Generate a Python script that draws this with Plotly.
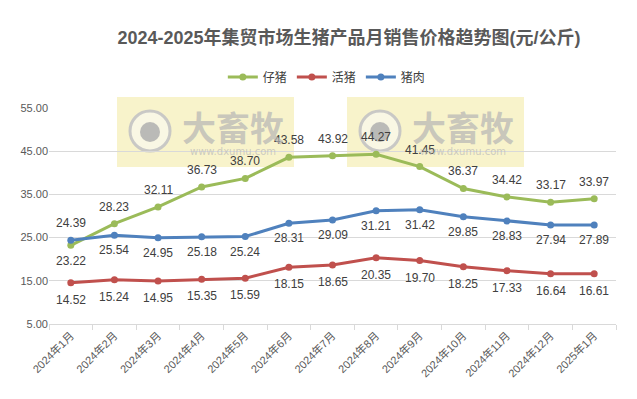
import plotly.graph_objects as go

months = ["2024年1月", "2024年2月", "2024年3月", "2024年4月", "2024年5月", "2024年6月",
          "2024年7月", "2024年8月", "2024年9月", "2024年10月", "2024年11月", "2024年12月", "2025年1月"]
piglet = [23.22, 28.23, 32.11, 36.73, 38.70, 43.58, 43.92, 44.27, 41.45, 36.37, 34.42, 33.17, 33.97]
live_hog = [14.52, 15.24, 14.95, 15.35, 15.59, 18.15, 18.65, 20.35, 19.70, 18.25, 17.33, 16.64, 16.61]
pork = [24.39, 25.54, 24.95, 25.18, 25.24, 28.31, 29.09, 31.21, 31.42, 29.85, 28.83, 27.94, 27.89]

series_names = ["仔猪", "活猪", "猪肉"]
colors = ["#9BBB59", "#C0504D", "#4F81BD"]

FONT = "Liberation Sans, Noto Sans CJK SC, sans-serif"

L, R, T, B = 49, 616, 108, 324
PW, PH = R - L, B - T


def px(x):
    return (x - L) / PW


def py(y):
    return (B - y) / PH


fig = go.Figure()
for name, vals, col in zip(series_names, [piglet, live_hog, pork], colors):
    fig.add_trace(go.Scatter(
        x=months, y=vals, name=name, mode="lines+markers",
        line=dict(color=col, width=3), marker=dict(color=col, size=7),
        hoverinfo="skip"))

# data labels
label_specs = [
    (piglet, [16] + [-17] * 12),
    (live_hog, [17] * 13),
    (pork, [-17] + [15] * 12),
]
annotations = []
for vals, shifts in label_specs:
    for m, v, s in zip(months, vals, shifts):
        annotations.append(dict(
            x=m, y=v, xref="x", yref="y", text=f"{v:.2f}", showarrow=False,
            xanchor="center", yanchor="middle",
            yshift=-s, font=dict(size=12, color="#404040", family=FONT)))

# watermarks
shapes = []
for x0 in [117, 347]:
    shapes.append(dict(type="rect", xref="paper", yref="paper",
                       x0=px(x0), x1=px(x0 + 177), y0=py(167), y1=py(97),
                       fillcolor="rgba(242,234,160,0.55)", line=dict(width=0), layer="below"))
    cx, cy = x0 + 33, 131
    shapes.append(dict(type="circle", xref="paper", yref="paper",
                       x0=px(cx - 20), x1=px(cx + 20), y0=py(cy + 20), y1=py(cy - 20),
                       fillcolor="rgba(250,250,245,0.6)", line=dict(color="rgba(195,195,195,0.9)", width=3),
                       layer="below"))
    shapes.append(dict(type="circle", xref="paper", yref="paper",
                       x0=px(cx - 10), x1=px(cx + 10), y0=py(cy + 11), y1=py(cy - 9),
                       fillcolor="rgba(175,175,175,0.85)", line=dict(width=0), layer="below"))
    annotations.append(dict(xref="paper", yref="paper", x=px(x0 + 116), y=py(127),
                            xanchor="center", yanchor="middle",
                            text="<b>大畜牧</b>", showarrow=False,
                            font=dict(size=34, color="rgba(180,180,180,0.7)", family="Noto Sans CJK SC")))
    annotations.append(dict(xref="paper", yref="paper", x=px(x0 + 116), y=py(151),
                            xanchor="center", yanchor="middle",
                            text="www.dxumu.com", showarrow=False,
                            font=dict(size=10, color="rgba(185,185,185,0.7)", family="DejaVu Sans")))

fig.update_layout(
    width=637, height=399,
    margin=dict(l=L, r=637 - R, t=T, b=399 - B),
    paper_bgcolor="white", plot_bgcolor="white",
    font=dict(family=FONT, color="#595959"),
    title=dict(text="<b>2024-2025年集贸市场生猪产品月销售价格趋势图(元/公斤)</b>",
               x=0.548, xanchor="center", y=1 - 38 / 399, yanchor="middle",
               font=dict(size=18, color="#595959", family=FONT)),
    legend=dict(orientation="h", x=0.49, xanchor="center", y=py(77), yanchor="middle",
                font=dict(size=12, color="#404040"), itemwidth=30, bgcolor="rgba(0,0,0,0)"),
    showlegend=True,
    annotations=annotations,
    shapes=shapes,
    xaxis=dict(type="category", tickangle=-45, tickfont=dict(size=11, color="#595959"),
               showgrid=False, showline=True, linecolor="#D9D9D9", linewidth=1,
               ticks="outside", tickson="boundaries", ticklen=5, tickcolor="#D9D9D9",
               range=[-0.5, 12.5], automargin=False),
    yaxis=dict(range=[5, 55], dtick=10, tick0=5, tickformat=".2f",
               tickfont=dict(size=11, color="#595959"),
               showgrid=True, gridcolor="#D9D9D9", gridwidth=1,
               zeroline=False, showline=False, ticks="", automargin=False),
)

fig.write_html("out.html", config={"displayModeBar": False},
               post_script="document.body.style.margin='0';")
